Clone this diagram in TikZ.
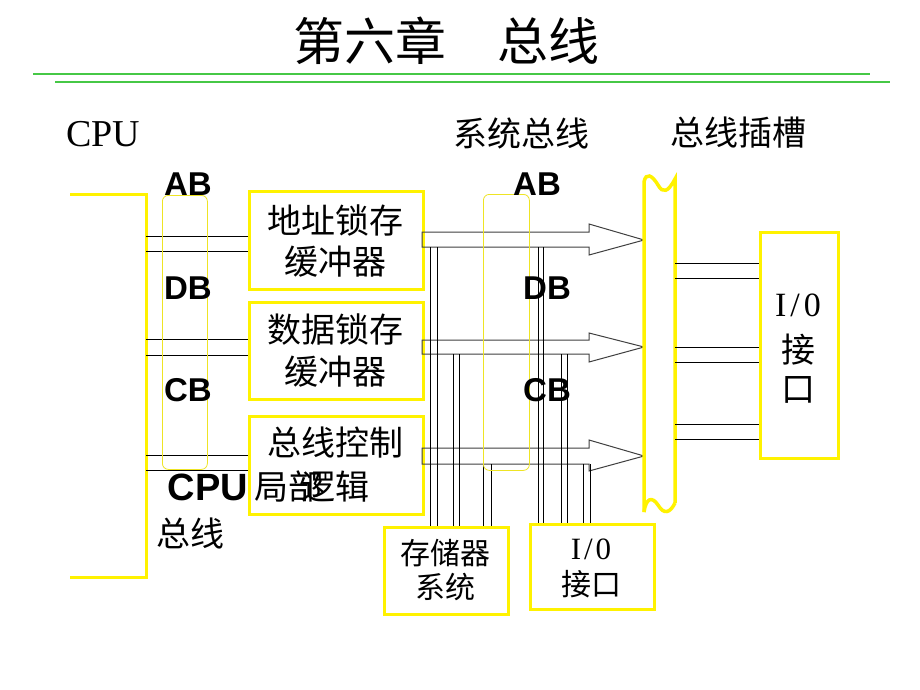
\documentclass[tikz,border=0pt]{standalone}
\usepackage{fontspec}
\setmainfont{Liberation Serif}
\newfontfamily\cjk{Noto Sans CJK SC}
\newfontfamily\arialf{Liberation Sans}
\definecolor{glines}{RGB}{70,200,70}
\begin{document}
\begin{tikzpicture}[x=1pt,y=-1pt,
  ybox/.style={draw=yellow,line width=3pt},
  thinbox/.style={draw=yellow!85!gray,line width=0.8pt,rounded corners=6pt},
  wire/.style={draw=black,line width=0.8pt},
  arr/.style={draw=black!75,line width=1pt},
  cjkt/.style={font=\cjk\fontsize{34}{38}\selectfont,inner sep=0pt},
  cjks/.style={font=\cjk\fontsize{30}{34}\selectfont,inner sep=0pt},
  busl/.style={font=\arialf\bfseries\fontsize{33}{36}\selectfont,inner sep=0pt},
  slot/.style={draw=yellow,line width=3.5pt}]
\useasboundingbox[fill=white] (0,0) rectangle (920,690);

% title
\node[font=\cjk\fontsize{51}{55}\selectfont,inner sep=0pt] (title) at (446,41) {第六章\hspace{1em}总线};
\coordinate (g1a) at (33,74); \coordinate (g1b) at (870,74);
\coordinate (g2a) at (55,82); \coordinate (g2b) at (890,82);
\draw[glines,line width=1.1pt] (g1a) -- (g1b);
\draw[glines,line width=1.1pt] (g2a) -- (g2b);

% top labels
\node[font=\fontsize{38}{42}\selectfont,inner sep=0pt] (cpulab) at (103,134) {CPU};
\node[cjkt] (syslab) at (521,133) {系统总线};
\node[cjkt] (slotlab) at (738,133) {总线插槽};

% CPU bracket
\coordinate (bk1) at (70,194); \coordinate (bk2) at (146,194);
\coordinate (bk3) at (146,577); \coordinate (bk4) at (70,577);
\draw[ybox] (bk1) -- (bk2) -- (bk3) -- (bk4);

% buffer boxes
\node[ybox,minimum width=174pt,minimum height=98pt,anchor=north west] (b1) at (248,190) {};
\node[ybox,minimum width=174pt,minimum height=97pt,anchor=north west] (b2) at (248,301) {};
\node[ybox,minimum width=174pt,minimum height=98pt,anchor=north west] (b3) at (248,415) {};
\node[cjkt] (b1t1) at (335,220) {地址锁存};
\node[cjkt] (b1t2) at (335,262) {缓冲器};
\node[cjkt] (b2t1) at (335,330) {数据锁存};
\node[cjkt] (b2t2) at (335,372) {缓冲器};
\node[cjkt] (b3t1) at (335,443) {总线控制};
\node[cjkt] (b3t2) at (335,487) {逻辑};

% CPU local bus wires
\foreach \yy in {236,251}{\draw[wire] (146,\yy) -- (b1.west |- 0,\yy);}
\foreach \yy in {339,355}{\draw[wire] (146,\yy) -- (b2.west |- 0,\yy);}
\foreach \yy in {455,470}{\draw[wire] (146,\yy) -- (b3.west |- 0,\yy);}

% left rounded group
\node[thinbox,minimum width=45pt,minimum height=274pt,anchor=north west] (lgrp) at (162,195) {};
\node[busl] (lab) at (188,184) {AB};
\node[busl] (ldb) at (188,288) {DB};
\node[busl] (lcb) at (188,390) {CB};
\node[font=\arialf\bfseries\fontsize{38}{40}\selectfont,inner sep=0pt] (lcpu) at (208,487) {CPU};
\node[cjkt,anchor=west] (lju) at (254,487) {局部};
\node[cjkt] (lzx) at (190,533) {总线};

% system bus hollow arrows
\foreach \n/\t/\b/\ht/\hb/\tip in {a1/232/247/224/255/240, a2/340/354/333/362/347, a3/448/464/440/471/456}{
  \draw[arr] (422,\t) -- (589,\t) -- (589,\ht) -- (644,\tip) -- (589,\hb) -- (589,\b) -- (422,\b) -- cycle;
}

% memory and IO boxes
\node[ybox,minimum width=124pt,minimum height=87pt,anchor=north west] (mem) at (383,526) {};
\node[cjks] (memt1) at (445,553) {存储器};
\node[cjks] (memt2) at (445,587) {系统};
\node[ybox,minimum width=124pt,minimum height=85pt,anchor=north west] (io1) at (529,523) {};
\node[font=\fontsize{31}{34}\selectfont,inner sep=0pt] (io1t1) at (591,549) {I\hspace{3pt}/\hspace{3pt}0};
\node[cjks] (io1t2) at (591,584) {接口};

% vertical drops
\foreach \xx in {430,437}{\draw[wire] (\xx,247) -- (\xx,0 |- mem.north);}
\foreach \xx in {453,459}{\draw[wire] (\xx,354) -- (\xx,0 |- mem.north);}
\foreach \xx in {483,491}{\draw[wire] (\xx,464) -- (\xx,0 |- mem.north);}
\foreach \xx in {538,543}{\draw[wire] (\xx,247) -- (\xx,0 |- io1.north);}
\foreach \xx in {561,567}{\draw[wire] (\xx,354) -- (\xx,0 |- io1.north);}
\foreach \xx in {583,590}{\draw[wire] (\xx,464) -- (\xx,0 |- io1.north);}

% middle rounded group
\node[thinbox,minimum width=46pt,minimum height=276pt,anchor=north west] (mgrp) at (483,194) {};
\node[busl] (mab) at (537,184) {AB};
\node[busl] (mdb) at (547,288) {DB};
\node[busl] (mcb) at (547,390) {CB};

% slot
\draw[slot] (644,512) -- (644,182) .. controls (646,172) and (652,175) .. (658,185)
  .. controls (663,194) and (668,192) .. (675,179) -- (675,503);
\draw[slot] (644,512) .. controls (646,498) and (652,496) .. (658,505)
  .. controls (664,515) and (670,513) .. (675,503);

% right IO box
\node[ybox,minimum width=78pt,minimum height=226pt,anchor=north west] (io2) at (759,231) {};
\node[font=\fontsize{34}{38}\selectfont,inner sep=0pt] (io2t1) at (798,305) {I\hspace{4pt}/\hspace{4pt}0};
\node[cjkt] (io2t2) at (798,350) {接};
\node[cjkt] (io2t3) at (798,390) {口};
\foreach \yy in {263,278,347,362,424,439}{\draw[wire] (675,\yy) -- (io2.west |- 0,\yy);}
\end{tikzpicture}
\end{document}
